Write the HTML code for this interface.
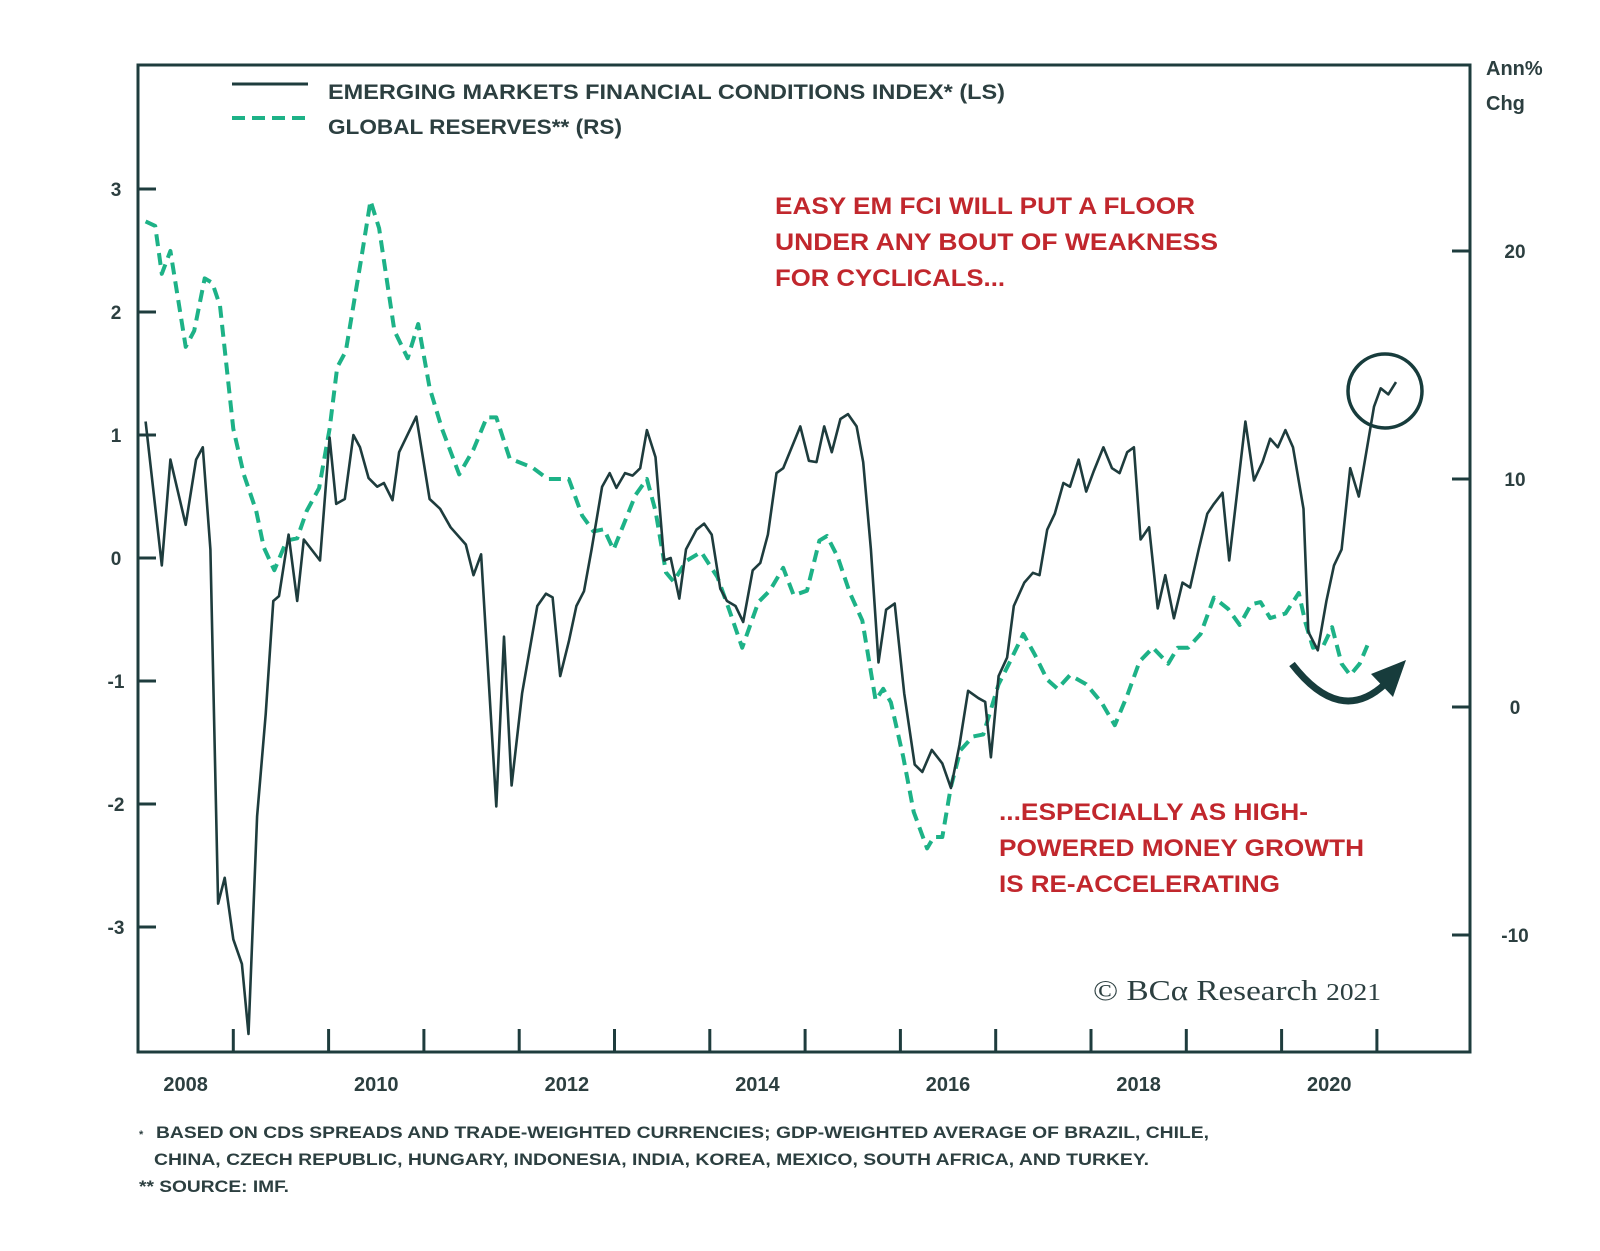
<!DOCTYPE html>
<html><head><meta charset="utf-8"><style>
html,body{margin:0;padding:0;background:#fff;}
svg{display:block;font-family:"Liberation Sans",sans-serif;}
</style></head><body>
<svg id="chart" width="1600" height="1251" viewBox="0 0 1600 1251">
<rect x="0" y="0" width="1600" height="1251" fill="#fff"/>
<g id="marks"></g>
<rect x="138" y="65" width="1332" height="987" fill="none" stroke="#1e3c3d" stroke-width="3"/>
<g id="axes"></g>
<g>
<line x1="232" y1="84" x2="308" y2="84" stroke="#1e3c3d" stroke-width="3"/>
<text x="328" y="99" font-size="21" font-weight="bold" fill="#2c3f40" textLength="677" lengthAdjust="spacingAndGlyphs">EMERGING MARKETS FINANCIAL CONDITIONS INDEX* (LS)</text>
<line x1="232" y1="118" x2="308" y2="118" stroke="#1db287" stroke-width="4" stroke-dasharray="13,7"/>
<text x="328" y="134" font-size="21" font-weight="bold" fill="#2c3f40" textLength="294" lengthAdjust="spacingAndGlyphs">GLOBAL RESERVES** (RS)</text>
</g>
<g fill="#c1272d" font-size="24" font-weight="bold">
<text x="775" y="214" textLength="420" lengthAdjust="spacingAndGlyphs">EASY EM FCI WILL PUT A FLOOR</text>
<text x="775" y="250" textLength="443" lengthAdjust="spacingAndGlyphs">UNDER ANY BOUT OF WEAKNESS</text>
<text x="775" y="286" textLength="230" lengthAdjust="spacingAndGlyphs">FOR CYCLICALS...</text>
</g>
<g fill="#c1272d" font-size="24" font-weight="bold">
<text x="999" y="820" textLength="309" lengthAdjust="spacingAndGlyphs">...ESPECIALLY AS HIGH-</text>
<text x="999" y="856" textLength="365" lengthAdjust="spacingAndGlyphs">POWERED MONEY GROWTH</text>
<text x="999" y="892" textLength="281" lengthAdjust="spacingAndGlyphs">IS RE-ACCELERATING</text>
</g>
<circle cx="1385" cy="391" r="37" fill="none" stroke="#173c3c" stroke-width="3.5"/>
<path d="M1292,664 Q1340,726 1385,684" fill="none" stroke="#173c3c" stroke-width="7"/>
<polygon points="1406,660 1371,674 1393,697" fill="#173c3c"/>
<text x="1093" y="1000" font-family="Liberation Serif,serif" font-size="29" fill="#2c3f40" textLength="288" lengthAdjust="spacingAndGlyphs">© BCα Research <tspan font-size="24">2021</tspan></text>
<text x="1486" y="75" font-size="20" font-weight="bold" fill="#2c3f40">Ann%</text>
<text x="1486" y="110" font-size="20" font-weight="bold" fill="#2c3f40">Chg</text>
<g fill="#2c3f40" font-size="17" font-weight="bold">
<text x="139" y="1138" font-size="11">*</text>
<text x="156" y="1138" textLength="1053" lengthAdjust="spacingAndGlyphs">BASED ON CDS SPREADS AND TRADE-WEIGHTED CURRENCIES; GDP-WEIGHTED AVERAGE OF BRAZIL, CHILE,</text>
<text x="154" y="1165" textLength="995" lengthAdjust="spacingAndGlyphs">CHINA, CZECH REPUBLIC, HUNGARY, INDONESIA, INDIA, KOREA, MEXICO, SOUTH AFRICA, AND TURKEY.</text>
<text x="139" y="1192" textLength="150" lengthAdjust="spacingAndGlyphs">** SOURCE: IMF.</text>
</g>
</svg>
<script>
const fciT=[2008.08,2008.25,2008.34,2008.5,2008.61,2008.68,2008.76,2008.84,2008.91,2009.0,2009.09,2009.16,2009.25,2009.34,2009.42,2009.48,2009.58,2009.67,2009.74,2009.91,2010.01,2010.08,2010.17,2010.26,2010.33,2010.42,2010.51,2010.58,2010.67,2010.74,2010.92,2011.06,2011.17,2011.28,2011.44,2011.52,2011.6,2011.76,2011.84,2011.92,2012.03,2012.19,2012.28,2012.35,2012.43,2012.52,2012.6,2012.68,2012.76,2012.87,2012.95,2013.02,2013.11,2013.19,2013.27,2013.34,2013.43,2013.52,2013.59,2013.68,2013.75,2013.86,2013.94,2014.02,2014.11,2014.18,2014.27,2014.35,2014.45,2014.53,2014.61,2014.7,2014.77,2014.95,2015.04,2015.12,2015.2,2015.28,2015.37,2015.45,2015.54,2015.61,2015.69,2015.77,2015.85,2015.94,2016.04,2016.15,2016.23,2016.33,2016.44,2016.53,2016.62,2016.71,2016.82,2016.89,2016.95,2017.03,2017.12,2017.19,2017.3,2017.39,2017.46,2017.54,2017.62,2017.71,2017.78,2017.87,2017.95,2018.03,2018.13,2018.22,2018.3,2018.38,2018.45,2018.52,2018.61,2018.7,2018.78,2018.87,2018.96,2019.04,2019.13,2019.22,2019.29,2019.38,2019.45,2019.62,2019.71,2019.8,2019.88,2019.96,2020.04,2020.12,2020.23,2020.28,2020.38,2020.47,2020.55,2020.63,2020.72,2020.81,2020.97,2021.04,2021.12,2021.2];
const fciV=[1.11,-0.06,0.8,0.27,0.8,0.9,0.07,-2.81,-2.6,-3.1,-3.3,-3.87,-2.1,-1.27,-0.35,-0.31,0.19,-0.35,0.15,-0.02,0.98,0.44,0.48,1.0,0.9,0.65,0.58,0.61,0.47,0.86,1.15,0.48,0.4,0.25,0.11,-0.14,0.03,-2.02,-0.64,-1.85,-1.1,-0.39,-0.29,-0.32,-0.96,-0.68,-0.39,-0.27,0.07,0.58,0.69,0.57,0.69,0.67,0.73,1.04,0.82,-0.02,0.0,-0.33,0.07,0.23,0.28,0.19,-0.25,-0.35,-0.39,-0.52,-0.1,-0.04,0.19,0.69,0.73,1.07,0.79,0.78,1.07,0.86,1.13,1.17,1.07,0.78,0.07,-0.85,-0.42,-0.37,-1.1,-1.68,-1.74,-1.56,-1.67,-1.87,-1.52,-1.08,-1.14,-1.17,-1.62,-0.96,-0.81,-0.39,-0.2,-0.12,-0.14,0.23,0.36,0.61,0.58,0.8,0.54,0.71,0.9,0.73,0.69,0.86,0.9,0.15,0.25,-0.41,-0.14,-0.49,-0.2,-0.24,0.07,0.36,0.44,0.53,-0.02,1.11,0.63,0.78,0.97,0.9,1.04,0.9,0.4,-0.6,-0.75,-0.35,-0.06,0.07,0.73,0.5,1.23,1.38,1.33,1.43];
const resT=[2008.08,2008.18,2008.25,2008.34,2008.5,2008.59,2008.7,2008.78,2008.86,2009.0,2009.11,2009.24,2009.32,2009.43,2009.56,2009.67,2009.77,2009.9,2010.01,2010.09,2010.18,2010.26,2010.34,2010.44,2010.53,2010.69,2010.83,2010.94,2011.06,2011.19,2011.37,2011.52,2011.66,2011.76,2011.9,2012.14,2012.3,2012.52,2012.66,2012.78,2012.89,2012.99,2013.22,2013.34,2013.43,2013.54,2013.62,2013.75,2013.91,2014.08,2014.2,2014.34,2014.51,2014.63,2014.77,2014.88,2015.02,2015.15,2015.23,2015.34,2015.47,2015.6,2015.74,2015.82,2015.9,2016.03,2016.14,2016.28,2016.35,2016.44,2016.53,2016.63,2016.76,2016.87,2017.03,2017.14,2017.29,2017.41,2017.54,2017.65,2017.78,2017.95,2018.11,2018.25,2018.38,2018.51,2018.65,2018.81,2018.91,2019.02,2019.15,2019.29,2019.44,2019.56,2019.68,2019.78,2019.88,2020.04,2020.18,2020.25,2020.33,2020.44,2020.53,2020.63,2020.72,2020.82,2020.9];
const resV=[21.3,21.1,19.0,20.0,15.8,16.5,18.8,18.6,17.6,12.2,10.2,8.6,7.0,6.0,7.3,7.4,8.6,9.6,12.2,14.9,15.6,17.6,19.6,22.2,21.0,16.5,15.3,16.8,14.0,12.2,10.2,11.3,12.7,12.7,10.9,10.5,10.0,10.0,8.4,7.7,7.8,6.9,9.3,10.0,8.6,5.9,5.5,6.4,6.8,5.7,4.3,2.6,4.6,5.1,6.1,4.9,5.1,7.3,7.5,6.6,5.0,3.8,0.3,0.8,0.2,-2.2,-4.6,-6.2,-5.7,-5.7,-3.5,-1.9,-1.3,-1.2,1.0,1.9,3.2,2.3,1.2,0.8,1.4,1.0,0.2,-0.8,0.5,2.0,2.6,1.9,2.6,2.6,3.2,4.8,4.3,3.6,4.5,4.6,3.9,4.1,5.0,3.7,2.6,2.7,3.5,1.9,1.4,1.9,2.7];
const leftTicks=[3,2,1,0,-1,-2,-3];
const rightTicks=[20,10,0,-10];
const yearTicks=[2008,2009,2010,2011,2012,2013,2014,2015,2016,2017,2018,2019,2020,2021];
const yearLabels=[2008,2010,2012,2014,2016,2018,2020];

const NS="http://www.w3.org/2000/svg";
function xS(t){return 138+(t-2008)*95.3;}
function yL(v){return 558-123*v;}
function yR(v){return 707-22.8*v;}
function mk(tag,attrs,parent){const e=document.createElementNS(NS,tag);for(const k in attrs)e.setAttribute(k,attrs[k]);parent.appendChild(e);return e;}
const marks=document.getElementById('marks'),axes=document.getElementById('axes');

let d=resT.map((t,i)=>(i?'L':'M')+xS(t).toFixed(1)+','+yR(resV[i]).toFixed(1)).join('');
const rl=mk('path',{d:d,fill:'none',stroke:'#1db287','stroke-width':4,'stroke-dasharray':'12,7','stroke-linejoin':'round'},marks);


d=fciT.map((t,i)=>(i?'L':'M')+xS(t).toFixed(1)+','+yL(fciV[i]).toFixed(1)).join('');
const fl=mk('path',{d:d,fill:'none',stroke:'#1e3c3d','stroke-width':2.6,'stroke-linejoin':'round'},marks);



leftTicks.forEach(v=>{
 const l=mk('line',{x1:138,x2:156,y1:yL(v),y2:yL(v),stroke:'#1e3c3d','stroke-width':3},axes);
 
 
 const t=mk('text',{x:116,y:yL(v)+7,'text-anchor':'middle','font-size':19,'font-weight':'bold',fill:'#2c3f40'},axes);
 t.textContent=String(v);
 
 
});
rightTicks.forEach(v=>{
 const l=mk('line',{x1:1452,x2:1470,y1:yR(v),y2:yR(v),stroke:'#1e3c3d','stroke-width':3},axes);
 
 
 const t=mk('text',{x:1515,y:yR(v)+7,'text-anchor':'middle','font-size':19,'font-weight':'bold',fill:'#2c3f40'},axes);
 t.textContent=String(v);
 
 
});
yearTicks.forEach(y=>{
 if(y===2008)return;
 const l=mk('line',{x1:xS(y),x2:xS(y),y1:1029,y2:1052,stroke:'#1e3c3d','stroke-width':3},axes);
 
 
});
yearLabels.forEach(y=>{
 const t=mk('text',{x:xS(y+0.5),y:1091,'text-anchor':'middle','font-size':20,'font-weight':'bold',fill:'#2c3f40'},axes);
 t.textContent=String(y);
 
 
});
</script>
</body></html>
